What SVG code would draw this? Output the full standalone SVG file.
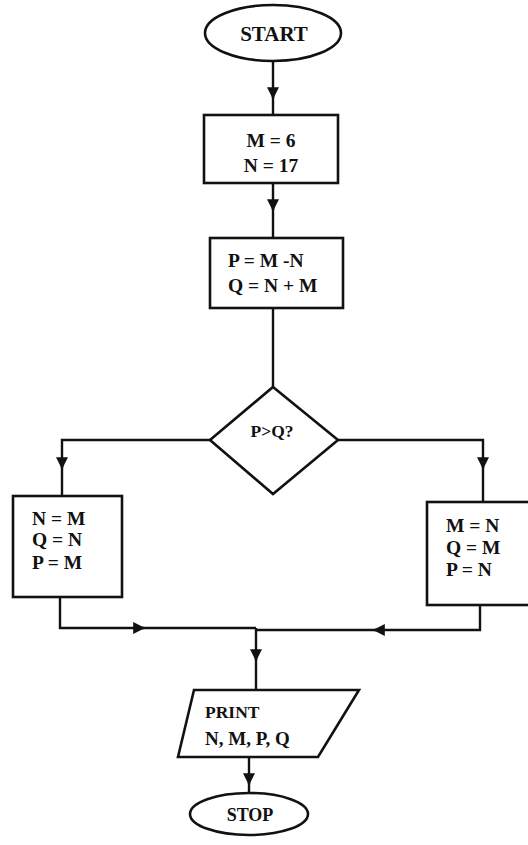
<svg xmlns="http://www.w3.org/2000/svg" width="528" height="845" viewBox="0 0 528 845">
<style>
.shape{fill:#fff;stroke:#111;stroke-width:2.6}
.line{fill:none;stroke:#111;stroke-width:2.4}
.arr{fill:none;stroke:#111;stroke-width:2.4;marker-end:url(#arr)}
text{font-family:"Liberation Serif","Times New Roman",serif;font-weight:bold;font-size:19.5px;fill:#111}
.c{text-anchor:middle}
</style>
<defs>
<marker id="arr" viewBox="0 0 10 10" refX="9" refY="5" markerWidth="12" markerHeight="12" markerUnits="userSpaceOnUse" orient="auto">
<path d="M0,0 L10,5 L0,10 z" fill="#111"/>
</marker>
</defs>
<rect width="528" height="845" fill="#fff"/>
<g id="connectors">
<path class="line" d="M273,61 L273,115"/>
<path class="arr" d="M273,88 L273,98"/>
<path class="line" d="M273,183 L273,238"/>
<path class="arr" d="M273,200 L273,210"/>
<path class="line" d="M273,308 L273,387"/>
<path class="line" d="M210,440 L62,440 L62,496"/>
<path class="arr" d="M62,458 L62,468"/>
<path class="line" d="M338,440 L483,440 L483,502"/>
<path class="arr" d="M483,458 L483,468"/>
<path class="line" d="M60,597 L60,628 L256,628"/>
<path class="arr" d="M134,628 L144,628"/>
<path class="line" d="M480,605 L480,630 L256,630"/>
<path class="arr" d="M384,630 L374,630"/>
<path class="line" d="M256,628 L256,690"/>
<path class="arr" d="M256,650 L256,660"/>
<path class="line" d="M249,757 L249,793"/>
<path class="arr" d="M249,774 L249,784"/>
</g>
<g id="start">
<ellipse class="shape" cx="273" cy="33" rx="68" ry="28"/>
<text class="c" x="274" y="41" style="font-size:21px">START</text>
</g>
<g id="assign1">
<rect class="shape" x="204" y="115" width="134" height="68"/>
<text class="c" x="271" y="147">M = 6</text>
<text class="c" x="271" y="172">N = 17</text>
</g>
<g id="compute">
<rect class="shape" x="210" y="238" width="133" height="70"/>
<text x="228" y="267">P = M -N</text>
<text x="228" y="292">Q = N + M</text>
</g>
<g id="decision">
<polygon class="shape" points="273,387 338,440 273,494 210,440"/>
<text class="c" x="272" y="437" style="font-size:17.5px">P&gt;Q?</text>
</g>
<g id="left-box">
<rect class="shape" x="13" y="496" width="109" height="101"/>
<text x="32" y="525">N = M</text>
<text x="32" y="546">Q = N</text>
<text x="32" y="569">P = M</text>
</g>
<g id="right-box">
<rect class="shape" x="427" y="502" width="104" height="103"/>
<text x="446" y="532">M = N</text>
<text x="446" y="554">Q = M</text>
<text x="446" y="576">P = N</text>
</g>
<g id="print">
<polygon class="shape" points="194,690 359,690 318,757 178,757"/>
<text x="205" y="718" style="font-size:17.5px">PRINT</text>
<text x="205" y="745" style="font-size:19px">N, M, P, Q</text>
</g>
<g id="stop">
<ellipse class="shape" cx="249" cy="814" rx="59" ry="21"/>
<text class="c" x="250" y="821" style="font-size:18px">STOP</text>
</g>
</svg>
